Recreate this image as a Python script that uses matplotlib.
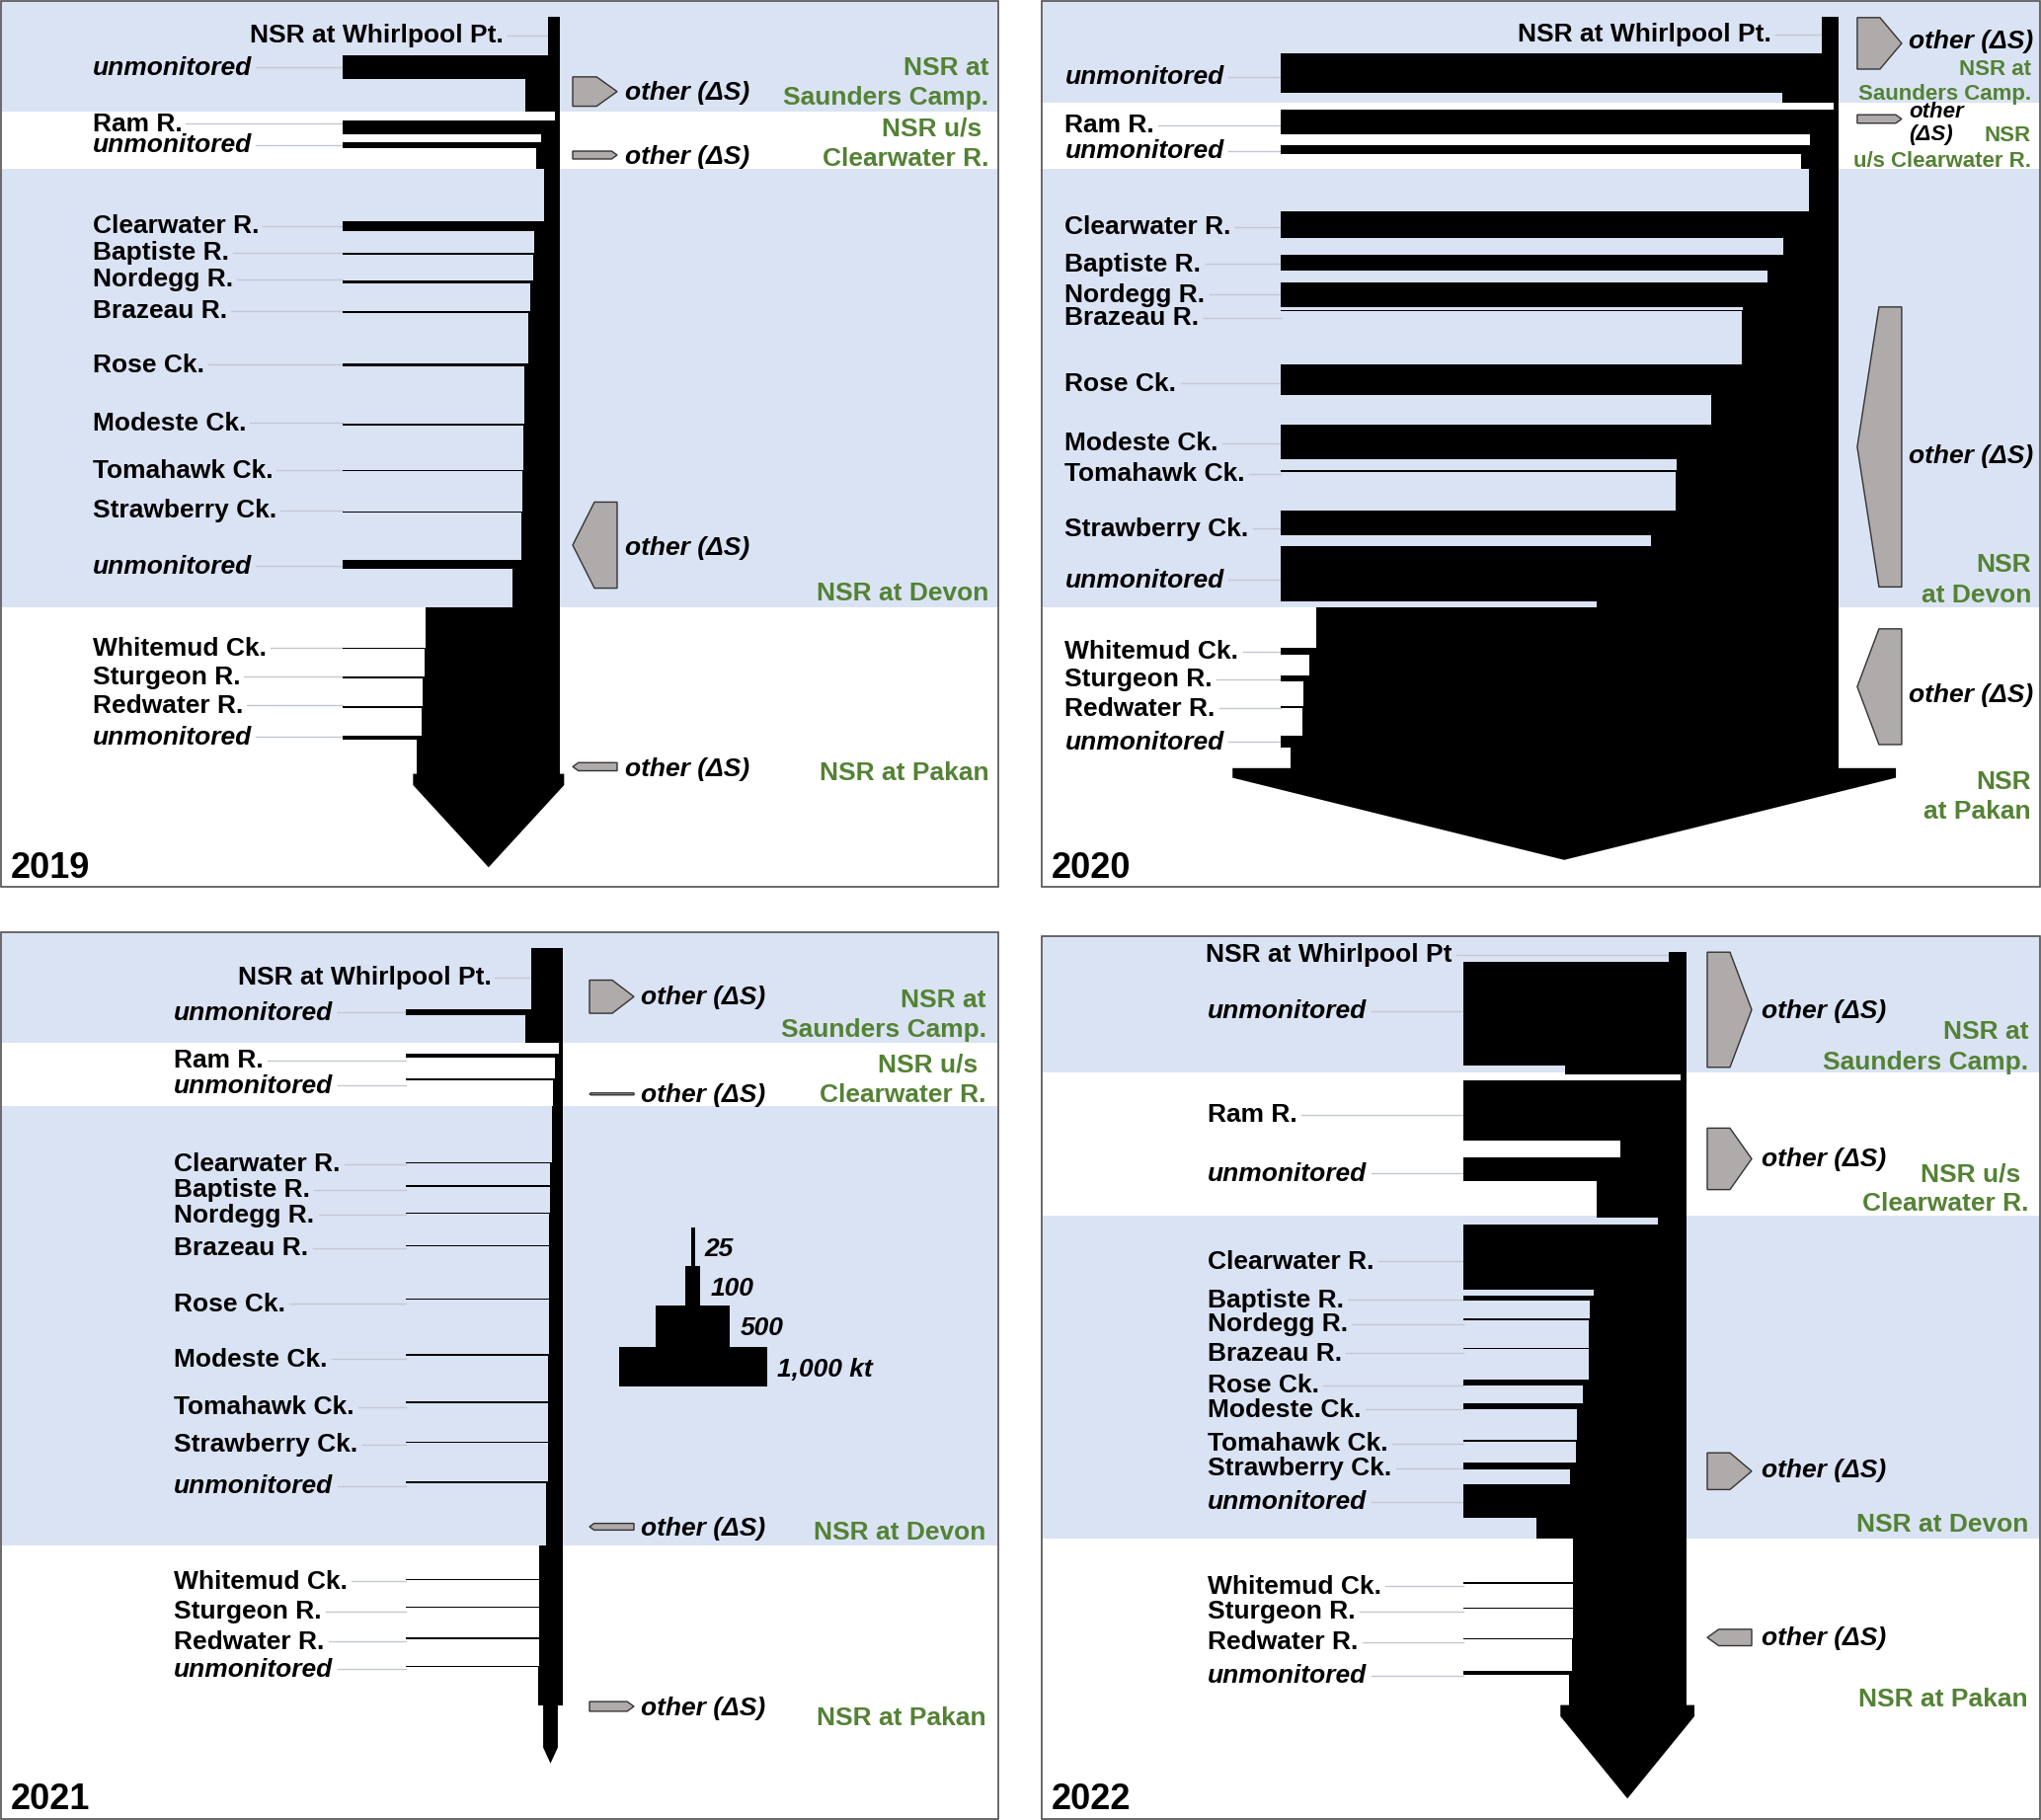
import numpy as np
import matplotlib.pyplot as plt
from matplotlib.patches import Polygon, Rectangle

plt.rcParams['font.family'] = ['Liberation Sans', 'DejaVu Sans']

# tributaries in downstream order
tribs = ['unmonitored', 'Ram R.', 'unmonitored', 'Clearwater R.', 'Baptiste R.', 'Nordegg R.',
         'Brazeau R.', 'Rose Ck.', 'Modeste Ck.', 'Tomahawk Ck.', 'Strawberry Ck.', 'unmonitored',
         'Whitemud Ck.', 'Sturgeon R.', 'Redwater R.', 'unmonitored']
# reach each tributary joins (0 = above Saunders Camp. ... 3 = above Pakan)
trib_reach = [0, 1, 1, 2, 2, 2, 2, 2, 2, 2, 2, 2, 3, 3, 3, 3]
years = ['2019', '2020', '2021', '2022']
whirl_names = ['NSR at Whirlpool Pt.', 'NSR at Whirlpool Pt.', 'NSR at Whirlpool Pt.', 'NSR at Whirlpool Pt']

# loads (kt)
whirlpool_kt = [78, 108, 210, 116]
loads_2019 = [155, 92, 34, 66, 9, 21, 13, 21, 12, 5, 9, 60, 9, 13, 8, 30]
loads_2020 = [270, 163, 58, 178, 105, 165, 8, 205, 235, 8, 165, 370, 45, 40, 10, 80]
loads_2021 = [40, 28, 12, 12, 3, 3, 3, 2, 2, 2, 2, 12, 1, 1, 1, 3]
loads_2022 = [700, 405, 160, 435, 30, 3, 3, 40, 40, 3, 42, 225, 3, 3, 3, 23]
# other (dS) at Saunders Camp., u/s Clearwater R., Devon, Pakan (kt, + = gain)
ds_2019 = [-198, -53, 581, 55]
ds_2020 = [-348, -57, 1890, 781]
ds_2021 = [-224, 6, 45, -65]
ds_2022 = [-777, -415, -248, 111]

legend_kt = [25, 100, 500, 1000]
legend_txt = ['25', '100', '500', '1,000 kt']

station_lines = [
    [['NSR at', 'Saunders Camp.'], ['NSR u/s', 'Clearwater R.'], ['NSR at Devon'], ['NSR at Pakan']],
    [['NSR at', 'Saunders Camp.'], ['NSR', 'u/s Clearwater R.'], ['NSR', 'at Devon'], ['NSR', 'at Pakan']],
    [['NSR at', 'Saunders Camp.'], ['NSR u/s', 'Clearwater R.'], ['NSR at Devon'], ['NSR at Pakan']],
    [['NSR at', 'Saunders Camp.'], ['NSR u/s', 'Clearwater R.'], ['NSR at Devon'], ['NSR at Pakan']],
]

all_loads = [loads_2019, loads_2020, loads_2021, loads_2022]
all_ds = [ds_2019, ds_2020, ds_2021, ds_2022]

# ---- layout (pixels inside each panel) ----
KT = 0.15  # px per kt
origins = [(0, 0), (1054, 0), (0, 943), (1054, 943)]
PW, PH = 1013, 900
frame_top = [1, 1, 1, 4.6]
bands = [[(1, 113.1), (171.1, 614.8)], [(1, 103.9), (171.1, 614.8)],
         [(1, 112.5), (177.4, 621.7)], [(4.6, 143), (287.6, 615.4)]]
boundaries = [[113.1, 171.1, 614.8], [103.9, 171.1, 614.8], [112.5, 177.4, 621.7], [144.5, 290, 615.4]]
x_right = [567.2, 807.5, 569.8, 653.7]
x_start = [346.9, 242.9, 410.9, 427.6]
label_x = [93.7, 24.5, 176.4, 169.3]
stem_top = [17.2, 17.2, 17.2, 21.2]
whirl_lab = [(510.3, 33.3), (739.7, 32.1), (497.4, 44.2), (416.7, 21.2)]
arrow = [(783.6, 795, 878.3), (777.8, 787.6, 870.8), (783.6, 826.6, 842.7), (783.6, 795, 878.3)]
bar_y = [
    [68.0, 128.9, 147, 229, 256.9, 285.6, 316.3, 369.7, 429.7, 476.5, 518.4, 571.2, 656.4, 685.7, 715.8, 747.1],
    [73.8, 123.7, 151.5, 227.3, 265.8, 298.5, 314.6, 384.6, 447.8, 476.8, 529.3, 580.9, 659.3, 686.6, 716.1, 751.2],
    [81.8, 126.3, 149.8, 234.5, 257.8, 285.6, 318.3, 372.3, 429.1, 476.8, 517.5, 558, 656.4, 684.6, 716.1, 744.5],
    [83.2, 181.4, 241.4, 330.1, 371.7, 393.2, 422.5, 456.9, 481.3, 516.1, 541.6, 577.2, 660.2, 685.4, 716.4, 750.9],
]
lab_y = [
    [66, 123.4, 144.7, 226.8, 253.7, 280.7, 312.9, 367.4, 426.5, 474.2, 514.9, 571.2, 654.4, 683.1, 712.4, 744],
    [75.8, 124.6, 151, 227.9, 265.2, 296.2, 319.7, 386.3, 446.6, 477.6, 533.3, 585.5, 657.9, 686, 715.3, 749.1],
    [80.4, 128.6, 154.4, 233.6, 259.5, 285.3, 318.6, 375.4, 431.1, 479.9, 517.8, 559.7, 656.1, 686.6, 717, 745.1],
    [78.6, 183.7, 243.4, 332.4, 371.4, 395.5, 425.4, 457.5, 482.2, 516.6, 541.9, 575.8, 661.3, 686.6, 717.6, 752],
]
pent_x = [580, 826.9, 597, 675]
pent_y = [[92.7, 157, 552, 776.4], [43.9, 120.5, 452.6, 695.4], [66.3, 164.8, 603, 785], [79.5, 230.5, 546.8, 715.2]]
other_x = [633, 878.6, 649, 730]
other_y = [[91.8, 156.7, 552.8, 776.7], [39, 125, 459.2, 701.5], [64.3, 163.6, 602.8, 784.2], [78.6, 228, 543.6, 713.6]]
green_right = [1001.3, 1003, 998.7, 1000]
green_y = [
    [[66, 96.4], [128, 159], [598], [780.7]],
    [[67.7, 93], [134.9, 160.7], [569.5, 600.5], [789.3, 819.8]],
    [[67.2, 97.6], [133.2, 163.6], [606.8], [794.5]],
    [[99.3, 130.3], [244, 273.8], [598.2], [775]],
]
# small right-edge nudges for some station lines
green_dx = [
    [[0, 0], [-7, 0], [0], [0]],
    [[0, 0], [0, 0], [0, 0], [0, 0]],
    [[0, 0], [-8, 0], [0], [0]],
    [[0, 0], [-8, 0], [0], [0]],
]
green_size = [[19, 19, 19, 19], [16, 16, 19, 19], [19, 19, 19, 19], [19, 19, 19, 19]]

BLUE = '#dae3f3'
GREEN = '#548235'
PENT = '#afabab'
LEADER = '#c3c8d0'

W, H = 2067, 1843
fig = plt.figure(figsize=(W / 100, H / 100), dpi=100)
renderer = fig.canvas.get_renderer()

for i in range(4):
    ox, oy = origins[i]
    ax = fig.add_axes([ox / W, 1 - (oy + PH) / H, PW / W, PH / H])
    ax.set_xlim(0, PW)
    ax.set_ylim(PH, 0)
    ax.axis('off')
    inv = ax.transData.inverted()

    # background bands and frame
    for y0, y1 in bands[i]:
        ax.add_patch(Rectangle((1, y0), 1010.5, y1 - y0, color=BLUE, lw=0, zorder=0))
    ax.add_patch(Rectangle((1, frame_top[i]), 1010.5, 898.5 - frame_top[i], fill=False,
                           ec='#505050', lw=1.2, zorder=5))

    loads = np.array(all_loads[i], dtype=float)
    ds = all_ds[i]
    xr = x_right[i]

    # main stem: width = running load
    w = whirlpool_kt[i]
    ys = [stem_top[i]]
    ws = [w]
    for r in range(4):
        for j in range(len(tribs)):
            if trib_reach[j] == r:
                w += loads[j]
                ys.append(bar_y[i][j] + loads[j] * KT / 2)
                ws.append(w)
        if r < 3:
            w += ds[r]
            ys.append(boundaries[i][r])
            ws.append(w)
    ys.append(arrow[i][0])
    ws.append(w)
    ys = np.array(ys)
    ws = np.array(ws)
    ax.fill_betweenx(ys, xr - ws * KT, xr, step='post', color='black', lw=0, zorder=3)

    # outflow arrow at Pakan
    top, flare, tip = arrow[i]
    cx = xr - w * KT / 2
    hw = (w + ds[3]) * KT / 2
    ax.add_patch(Polygon([(cx - hw, top), (cx + hw, top), (cx + hw, flare), (cx, tip), (cx - hw, flare)],
                         closed=True, color='black', lw=0, zorder=3))

    # tributary bars
    ax.barh(bar_y[i], xr - x_start[i], left=x_start[i], height=np.maximum(loads * KT, 1.5),
            color='black', lw=0, zorder=3)

    # tributary labels with leader lines
    for j, name in enumerate(tribs):
        t = ax.text(label_x[i], lab_y[i][j], name, fontsize=19, fontweight='bold',
                    style='italic' if name == 'unmonitored' else 'normal',
                    ha='left', va='center_baseline', zorder=4)
        bb = t.get_window_extent(renderer=renderer)
        xe = inv.transform((bb.x1, bb.y0))[0]
        ax.plot([xe + 4, x_start[i]], [lab_y[i][j] + 2] * 2, color=LEADER, lw=1, zorder=2)

    wx, wy = whirl_lab[i]
    ax.text(wx, wy, whirl_names[i], fontsize=19, fontweight='bold', ha='right', va='center_baseline')
    ax.plot([wx + 4, xr - whirlpool_kt[i] * KT], [wy + 2.5] * 2, color=LEADER, lw=1, zorder=2)

    # other (dS) arrows
    for s in range(4):
        hgt = max(abs(ds[s]) * KT, 2)
        yc = pent_y[i][s]
        x0 = pent_x[i]
        tp = min(22, 0.7 * hgt)
        if ds[s] < 0:
            pts = [(x0, yc - hgt / 2), (x0 + 45 - tp, yc - hgt / 2), (x0 + 45, yc),
                   (x0 + 45 - tp, yc + hgt / 2), (x0, yc + hgt / 2)]
        else:
            pts = [(x0 + 45, yc - hgt / 2), (x0 + tp, yc - hgt / 2), (x0, yc),
                   (x0 + tp, yc + hgt / 2), (x0 + 45, yc + hgt / 2)]
        ax.add_patch(Polygon(pts, closed=True, fc=PENT, ec='#333333', lw=1, zorder=3))
        if i == 1 and s == 1:
            ax.text(other_x[i] + 1, other_y[i][s], 'other\n(ΔS)', fontsize=16, fontweight='bold',
                    style='italic', ha='left', va='center', linespacing=1.15)
        else:
            ax.text(other_x[i], other_y[i][s], 'other (ΔS)', fontsize=19, fontweight='bold',
                    style='italic', ha='left', va='center_baseline')

    # station names
    for s in range(4):
        for line, gy, dx in zip(station_lines[i][s], green_y[i][s], green_dx[i][s]):
            ax.text(green_right[i] + dx, gy, line, fontsize=green_size[i][s], fontweight='bold',
                    color=GREEN, ha='right', va='center_baseline')

    ax.text(11, 880, years[i], fontsize=26, fontweight='bold', ha='left', va='center')

    # scale legend in the 2021 panel
    if i == 2:
        lcx = 702
        tops = [300, 339, 379, 421]
        bots = [339, 379, 421, 461]
        for k in range(4):
            lw_px = legend_kt[k] * KT
            ax.add_patch(Rectangle((lcx - lw_px / 2, tops[k]), lw_px, bots[k] - tops[k],
                                   color='black', lw=0, zorder=3))
            ax.text(lcx + lw_px / 2 + 10, (tops[k] + bots[k]) / 2, legend_txt[k], fontsize=19,
                    fontweight='bold', style='italic', ha='left', va='center_baseline')

fig.savefig('out.png', dpi=100)
